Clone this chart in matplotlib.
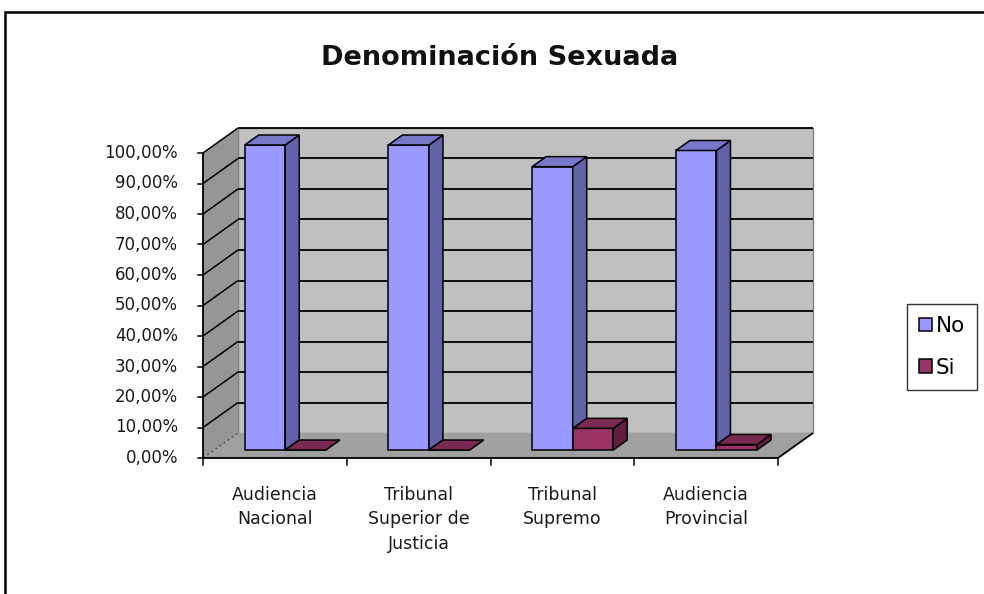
import matplotlib
matplotlib.use("Agg")
import matplotlib.pyplot as plt
from matplotlib.patches import Polygon, Patch, Rectangle

# data
categories = ["Audiencia\nNacional", "Tribunal\nSuperior de\nJusticia", "Tribunal\nSupremo", "Audiencia\nProvincial"]
series_names = ["No", "Si"]
no_values = [100.0, 100.0, 92.9, 98.2]
si_values = [0.0, 0.0, 7.1, 1.8]
y_ticks = list(range(0, 101, 10))
y_tick_labels = [f"{t:.2f}%".replace(".", ",") for t in y_ticks]
title = "Denominación Sexuada"

# colours: front, side, top
NO_COLORS = ("#9999FF", "#6262A8", "#7878CC")
SI_COLORS = ("#993366", "#5E1F40", "#7A2A52")
WALL = "#C0C0C0"
SIDE = "#969696"
FLOOR = "#A0A0A0"

W, H = 984, 594
# front plot area in pixels
PX_L, PX_R, PX_T, PX_B = 203, 778, 153, 458

fig = plt.figure(figsize=(W / 100, H / 100), dpi=100)
fig.patch.set_facecolor("white")
ax = fig.add_axes([PX_L / W, 1 - PX_B / H, (PX_R - PX_L) / W, (PX_B - PX_T) / H])
ax.set_xlim(0, len(categories))
ax.set_ylim(0, 100)
ax.axis("off")

px_x = (PX_R - PX_L) / len(categories)  # px per category
px_y = (PX_B - PX_T) / 100.0  # px per percent
DX = 35 / px_x
DY = 25 / px_y


def proj(x, y, z):
    return (x + z * DX, y + z * DY)


def face(pts, color, z, ec="black", lw=1.1):
    poly = Polygon([proj(*p) for p in pts], closed=True, facecolor=color,
                   edgecolor=ec, linewidth=lw, clip_on=False, zorder=z, joinstyle="miter")
    ax.add_patch(poly)


def line(p0, p1, z=3, **kw):
    a, b = proj(*p0), proj(*p1)
    ax.plot([a[0], b[0]], [a[1], b[1]], clip_on=False, zorder=z, solid_capstyle="butt", **kw)


n = len(categories)
# walls and floor
face([(0, 0, 1), (n, 0, 1), (n, 100, 1), (0, 100, 1)], WALL, 1, ec="#808080", lw=1.0)
face([(0, 0, 0), (0, 0, 1), (0, 100, 1), (0, 100, 0)], SIDE, 1, ec="none", lw=0)
face([(0, 0, 0), (n, 0, 0), (n, 0, 1), (0, 0, 1)], FLOOR, 1, ec="none", lw=0)

for t in y_ticks[1:]:
    line((0, t, 1), (n, t, 1), z=2, color="black", lw=1.3)
    line((0, t, 0), (0, t, 1), z=2, color="black", lw=1.1)
line((0, 0, 0), (0, 0, 1), z=2, color="#555555", lw=0.9, ls=(0, (2, 2)))

# front axes
line((0, 0, 0), (0, 100, 0), z=3, color="black", lw=1.3)
line((0, 0, 0), (n, 0, 0), z=3, color="black", lw=1.3)
line((n, 0, 0), (n, 0, 1), z=3, color="black", lw=1.3)
for t, lab in zip(y_ticks, y_tick_labels):
    ax.plot([0, -5 / px_x], [t, t], color="black", lw=1.1, clip_on=False, zorder=3)
    ax.text(-25 / px_x, t, lab, ha="right", va="center", fontsize=12,
            family="DejaVu Sans", color="#1a1a1a")
for i in range(n + 1):
    ax.plot([i, i], [0, -7 / px_y], color="black", lw=1.1, clip_on=False, zorder=3)
for i, lab in enumerate(categories):
    ax.text(i + 0.5, -28 / px_y, lab, ha="center", va="top", fontsize=12.5,
            family="DejaVu Sans", linespacing=1.45, color="#1a1a1a")

# bars
Z0, Z1 = 0.32, 0.72
OFF, BW = 0.212, 0.282


def bar(a, b, h, colors, z):
    front, side, top = colors
    face([(a, 0, Z0), (b, 0, Z0), (b, h, Z0), (a, h, Z0)], front, z)
    face([(b, 0, Z0), (b, 0, Z1), (b, h, Z1), (b, h, Z0)], side, z)
    face([(a, h, Z0), (b, h, Z0), (b, h, Z1), (a, h, Z1)], top, z)


for i in range(n):
    a = i + OFF
    bar(a, a + BW, no_values[i], NO_COLORS, 4 + 2 * i)
    bar(a + BW, a + 2 * BW, si_values[i], SI_COLORS, 5 + 2 * i)

fig.text(500 / W, 1 - 58 / H, title, ha="center", va="center", fontsize=19.5,
         family="DejaVu Sans", weight="bold", color="#111111")

handles = [Patch(facecolor=NO_COLORS[0], edgecolor="black", lw=1.1),
           Patch(facecolor=SI_COLORS[0], edgecolor="black", lw=1.1)]
leg = fig.legend(handles, series_names, loc="center", bbox_to_anchor=(942 / W, 1 - 347 / H),
                 fancybox=False, frameon=True, edgecolor="black",
                 prop={"family": "DejaVu Sans", "size": 15.5},
                 handlelength=0.6, handleheight=0.6, handletextpad=0.2,
                 labelspacing=1.0, borderpad=0.55, borderaxespad=0)
leg.get_frame().set_linewidth(1.0)

# outer chart border (continues past right and bottom edges)
fig.add_artist(Rectangle((5 / W, -0.2), 1.2, 1 - 12 / H + 0.2, transform=fig.transFigure,
                         fill=False, edgecolor="black", lw=1.8))

fig.savefig("out.png", dpi=100)
